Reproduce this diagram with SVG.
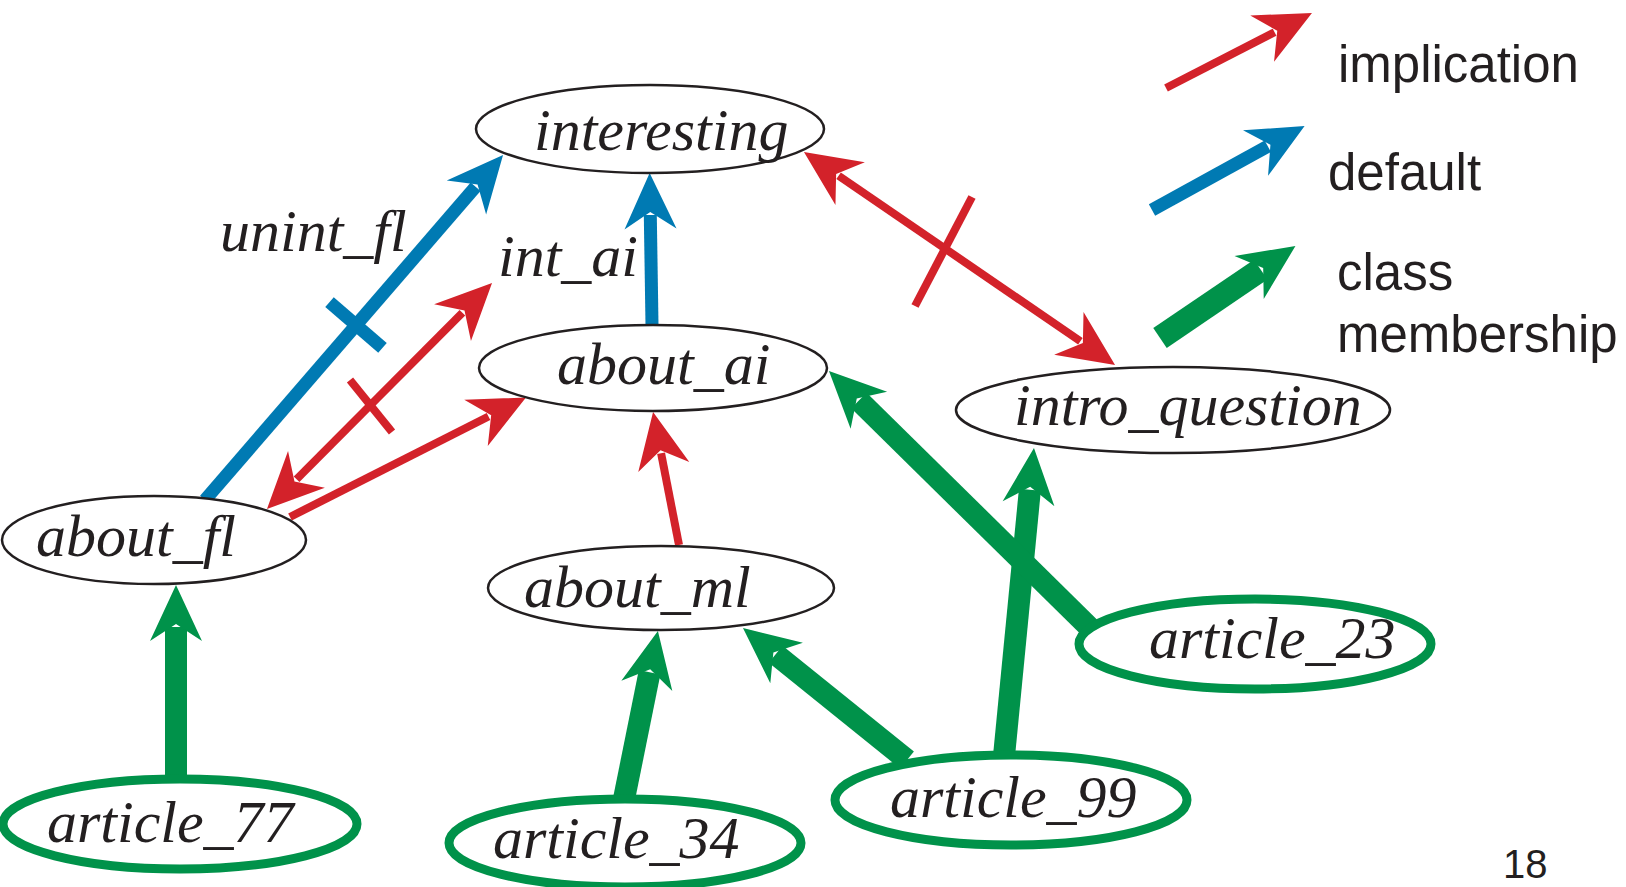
<svg xmlns="http://www.w3.org/2000/svg" width="1626" height="887" viewBox="0 0 1626 887">
<style>
.n{fill:#fff;stroke:#231f20;stroke-width:2.5}
.a{fill:#fff;stroke:#00924a;stroke-width:9}
.t{font-family:"Liberation Serif","Times New Roman",serif;font-style:italic;font-size:60px;fill:#231f20}
.lg{font-family:"Liberation Sans",Arial,sans-serif;font-size:51px;fill:#231f20}
.red{stroke:#d3222a;stroke-width:8;fill:none}
.blue{stroke:#007ab3;stroke-width:13;fill:none}
.green{stroke:#00924a;stroke-width:22;fill:none}
</style>
<defs>
<marker id="hr" markerUnits="userSpaceOnUse" viewBox="-58 -28 60 56" markerWidth="60" markerHeight="56" refX="-42" refY="0" orient="auto-start-reverse" overflow="visible"><path d="M0,0 L-56,-26 L-39,0 L-56,26 Z" fill="#d3222a"/></marker>
<marker id="hb" markerUnits="userSpaceOnUse" viewBox="-58 -28 60 56" markerWidth="60" markerHeight="56" refX="-42" refY="0" orient="auto" overflow="visible"><path d="M0,0 L-56,-26 L-39,0 L-56,26 Z" fill="#007ab3"/></marker>
<marker id="hg" markerUnits="userSpaceOnUse" viewBox="-58 -28 60 56" markerWidth="60" markerHeight="56" refX="-42" refY="0" orient="auto" overflow="visible"><path d="M0,0 L-56,-26 L-39,0 L-56,26 Z" fill="#00924a"/></marker>
</defs>
<rect width="1626" height="887" fill="#fff"/>
<g id="connectors">
<line class="blue" x1="205" y1="500" x2="475.6" y2="186.8" marker-end="url(#hb)"/>
<line class="blue" x1="329.5" y1="302.1" x2="382.5" y2="347.9"/>
<line class="blue" x1="652" y1="325" x2="650.3" y2="215" marker-end="url(#hb)"/>
<line class="red" x1="296.6" y1="479.3" x2="462.4" y2="312.7" marker-start="url(#hr)" marker-end="url(#hr)"/>
<line class="red" x1="350" y1="380" x2="392" y2="432"/>
<line class="red" x1="290" y1="517" x2="488.5" y2="416.5" marker-end="url(#hr)"/>
<line class="red" x1="679" y1="545" x2="661.1" y2="453.2" marker-end="url(#hr)"/>
<line class="red" x1="838.6" y1="175.7" x2="1080.4" y2="341.3" marker-start="url(#hr)" marker-end="url(#hr)"/>
<line class="red" x1="972" y1="197" x2="915" y2="306"/>
<line class="green" x1="176" y1="780" x2="176" y2="627" marker-end="url(#hg)"/>
<line class="green" x1="624" y1="799" x2="649.6" y2="672.2" marker-end="url(#hg)"/>
<line class="green" x1="907" y1="760" x2="775.7" y2="654.3" marker-end="url(#hg)"/>
<line class="green" x1="1004" y1="756" x2="1029.9" y2="489.8" marker-end="url(#hg)"/>
<line class="green" x1="1092" y1="630" x2="858.9" y2="400.5" marker-end="url(#hg)"/>
</g>
<g id="edge-labels">
<text class="t" x="220" y="251">unint_fl</text>
<text class="t" x="498" y="276">int_ai</text>
</g>
<g id="node-interesting"><ellipse class="n" cx="650" cy="129" rx="174" ry="44"/><text class="t" x="534" y="150">interesting</text></g>
<g id="node-about_ai"><ellipse class="n" cx="653" cy="368" rx="174" ry="43"/><text class="t" x="557" y="384">about_ai</text></g>
<g id="node-about_fl"><ellipse class="n" cx="154" cy="540" rx="152" ry="44"/><text class="t" x="36" y="556">about_fl</text></g>
<g id="node-about_ml"><ellipse class="n" cx="661" cy="588" rx="173" ry="42"/><text class="t" x="524" y="607">about_ml</text></g>
<g id="node-intro_question"><ellipse class="n" cx="1173" cy="410" rx="217" ry="43"/><text class="t" x="1014" y="425">intro_question</text></g>
<g id="node-article_23"><ellipse class="a" cx="1255" cy="644" rx="176" ry="45"/><text class="t" x="1149" y="658">article_23</text></g>
<g id="node-article_99"><ellipse class="a" cx="1011" cy="800" rx="176" ry="45"/><text class="t" x="890" y="817">article_99</text></g>
<g id="node-article_77"><ellipse class="a" cx="180" cy="824" rx="177" ry="45"/><text class="t" x="47" y="842">article_77</text></g>
<g id="node-article_34"><ellipse class="a" cx="625" cy="843" rx="176" ry="44"/><text class="t" x="493" y="858">article_34</text></g>
<g id="legend">
<line class="red" x1="1166" y1="88" x2="1274.6" y2="32.2" marker-end="url(#hr)"/>
<line class="blue" x1="1152" y1="210" x2="1267.8" y2="146.3" marker-end="url(#hb)"/>
<line class="green" style="stroke-width:24" x1="1160" y1="338" x2="1260.7" y2="269.6" marker-end="url(#hg)"/>
<text class="lg" x="1338" y="82">implication</text>
<text class="lg" x="1328" y="190">default</text>
<text class="lg" x="1337" y="290">class</text>
<text class="lg" x="1337" y="352">membership</text>
</g>
<text class="lg" style="font-size:40px" x="1503" y="878">18</text>
</svg>
